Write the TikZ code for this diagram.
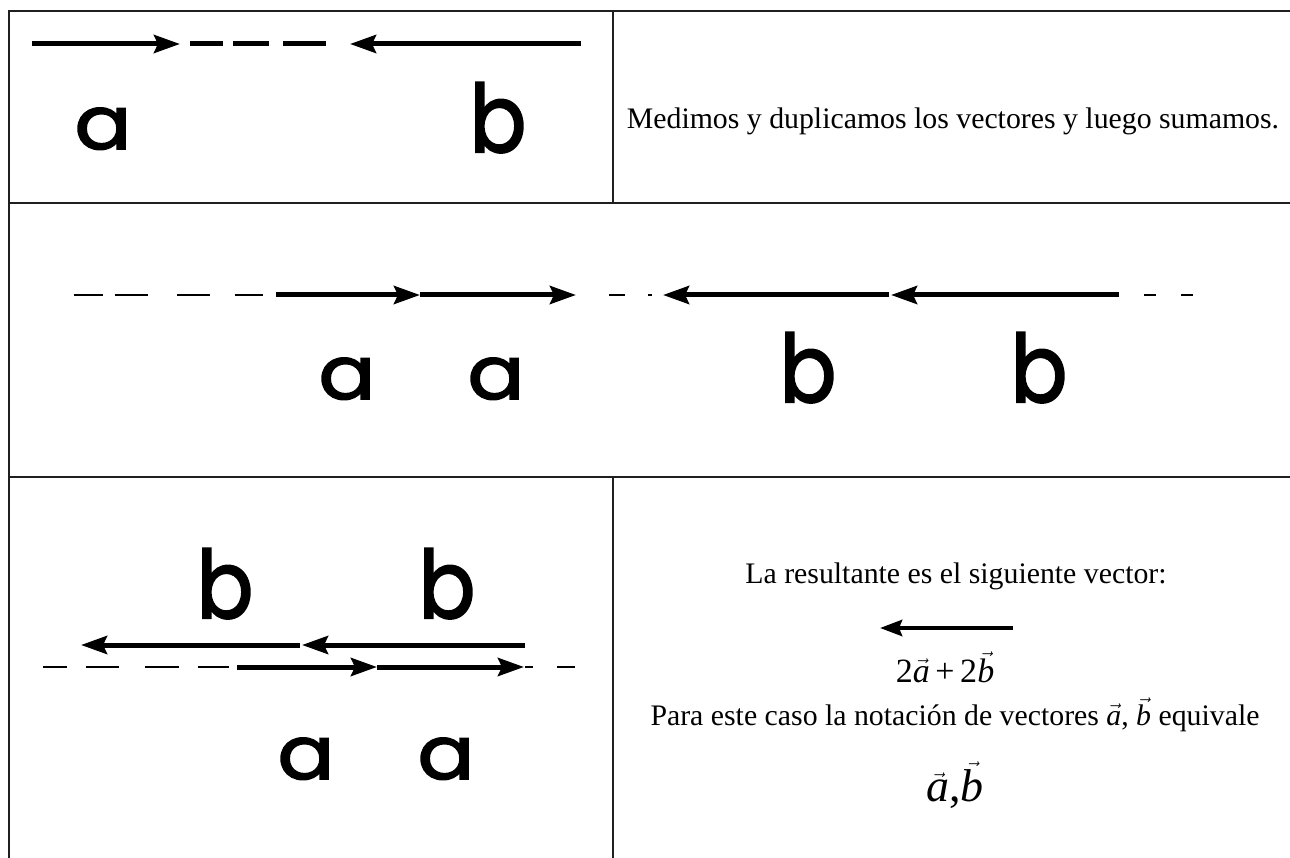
\documentclass[tikz,border=0pt]{standalone}
\usepackage{fontspec}
\setmainfont{Liberation Serif}
\newfontfamily\geo[FakeBold=2.2]{Poppins}
\usetikzlibrary{arrows.meta}
\newcommand{\la}{\scalebox{1}[0.88]{a}}
\newcommand{\lb}{\scalebox{1}[1.12]{b}}
\begin{document}
\begin{tikzpicture}[x=1pt,y=-1pt,
  gridline/.style={line width=2pt, draw=black!88},
  vec/.style={line width=5pt, -{Stealth[length=26pt,width=18pt,inset=4pt]}},
  resvec/.style={line width=4.5pt, -{Stealth[length=22pt,width=16pt,inset=3pt]}},
  thickdash/.style={line width=5pt},
  thindash/.style={line width=2.4pt},
  lbl/.style={font=\geo\fontsize{84}{84}\selectfont, inner sep=0pt, anchor=base},
  txt/.style={font=\fontsize{29.8}{34}\selectfont, inner sep=0pt, anchor=base}]
\useasboundingbox (0,0) rectangle (1290,858);
% table
\draw[gridline] (9,858) -- (9,11) -- (1290,11);
\draw[gridline] (9,203) -- (1290,203);
\draw[gridline] (9,477) -- (1290,477);
\draw[gridline] (613,11) -- (613,203);
\draw[gridline] (613,477) -- (613,858);
% row 1
\coordinate (r1a0) at (32,44);
\coordinate (r1a1) at (180,44);
\coordinate (r1b0) at (581,44);
\coordinate (r1b1) at (350,44);
\draw[vec] (r1a0) -- (r1a1);
\draw[vec] (r1b0) -- (r1b1);
\foreach \s/\e in {190/223,233/269,283/326} \draw[thickdash] (\s,44) -- (\e,44);
\node[lbl] (r1la) at (103,149) {\la};
\node[lbl] (r1lb) at (498,152) {\lb};
\node[txt] (t1) at (953,129) {Medimos y duplicamos los vectores y luego sumamos.};
% row 2
\coordinate (r2a0) at (276,295);
\coordinate (r2a1) at (420,295);
\coordinate (r2a2) at (576,295);
\coordinate (r2b0) at (1119,295);
\coordinate (r2b1) at (891,295);
\coordinate (r2b2) at (889,295);
\coordinate (r2b3) at (663,295);
\draw[vec] (r2a0) -- (r2a1);
\draw[vec] (r2a1) -- (r2a2);
\draw[vec] (r2b0) -- (r2b1);
\draw[vec] (r2b2) -- (r2b3);
\foreach \s/\e in {74/103,115/148,177/210,235/263,609/625,648/652,1144/1156,1181/1193} \draw[thindash] (\s,295) -- (\e,295);
\node[lbl] (r2la1) at (347,399) {\la};
\node[lbl] (r2la2) at (496,399) {\la};
\node[lbl] (r2lb1) at (808,402) {\lb};
\node[lbl] (r2lb2) at (1039,402) {\lb};
% row 3
\coordinate (r3b0) at (525,645);
\coordinate (r3b1) at (302,645);
\coordinate (r3b2) at (300,645);
\coordinate (r3b3) at (81,645);
\draw[vec] (r3b0) -- (r3b1);
\draw[vec] (r3b2) -- (r3b3);
\coordinate (r3a0) at (237,667);
\coordinate (r3a1) at (377,667);
\coordinate (r3a2) at (524,667);
\draw[vec] (r3a0) -- (r3a1);
\draw[vec] (r3a1) -- (r3a2);
\foreach \s/\e in {43/67,86/119,145/179,198/229,525/533,557/575} \draw[thindash] (\s,667) -- (\e,667);
\node[lbl] (r3lb1) at (225,618) {\lb};
\node[lbl] (r3lb2) at (447,618) {\lb};
\node[lbl] (r3la1) at (306,779) {\la};
\node[lbl] (r3la2) at (446,779) {\la};
% row 3 right
\node[txt] (t2) at (956,583) {La resultante es el siguiente vector:};
\coordinate (res0) at (1013,628);
\coordinate (res1) at (880,628);
\draw[resvec] (res0) -- (res1);
\node[txt, font=\fontsize{34}{36}\selectfont] (t3) at (945,682) {2$\vec{\textit{a}}$\,+\,2$\vec{\textit{b}}$};
\node[txt] (t4) at (955,725) {Para este caso la notación de vectores $\vec{\textit{a}}$, $\vec{\textit{b}}$ equivale};
\node[txt, font=\fontsize{46}{48}\selectfont] (t5) at (955,801) {$\vec{\textit{a}}$,$\vec{\textit{b}}$};
\end{tikzpicture}
\end{document}
